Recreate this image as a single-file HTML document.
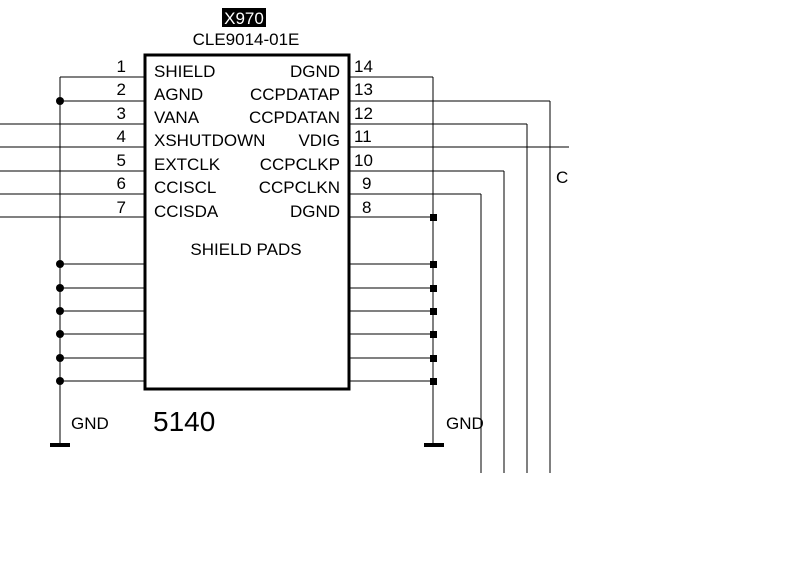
<!DOCTYPE html>
<html><head><style>
body{margin:0;background:#fff;width:796px;height:583px;overflow:hidden}
svg{display:block}
text{font-family:"Liberation Sans",Arial,sans-serif;font-size:17px;fill:#000}
</style></head><body>
<svg width="796" height="583" viewBox="0 0 796 583" xmlns="http://www.w3.org/2000/svg">
<g stroke="#000" stroke-width="1" fill="none" shape-rendering="crispEdges">
<line x1="60" y1="77" x2="144" y2="77"/>
<line x1="60" y1="101" x2="144" y2="101"/>
<line x1="0" y1="124" x2="144" y2="124"/>
<line x1="0" y1="147" x2="144" y2="147"/>
<line x1="0" y1="171" x2="144" y2="171"/>
<line x1="0" y1="194" x2="144" y2="194"/>
<line x1="0" y1="217" x2="144" y2="217"/>
<line x1="60" y1="77" x2="60" y2="445"/>
<line x1="60" y1="264" x2="144" y2="264"/>
<line x1="60" y1="288" x2="144" y2="288"/>
<line x1="60" y1="311" x2="144" y2="311"/>
<line x1="60" y1="334" x2="144" y2="334"/>
<line x1="60" y1="358" x2="144" y2="358"/>
<line x1="60" y1="381" x2="144" y2="381"/>
<line x1="349" y1="77" x2="433" y2="77"/>
<line x1="433" y1="77" x2="433" y2="445"/>
<line x1="349" y1="101" x2="550" y2="101"/>
<line x1="550" y1="101" x2="550" y2="473"/>
<line x1="349" y1="124" x2="527" y2="124"/>
<line x1="527" y1="124" x2="527" y2="473"/>
<line x1="349" y1="147" x2="569" y2="147"/>
<line x1="349" y1="171" x2="504" y2="171"/>
<line x1="504" y1="171" x2="504" y2="473"/>
<line x1="349" y1="194" x2="481" y2="194"/>
<line x1="481" y1="194" x2="481" y2="473"/>
<line x1="349" y1="217" x2="433" y2="217"/>
<line x1="349" y1="264" x2="433" y2="264"/>
<line x1="349" y1="288" x2="433" y2="288"/>
<line x1="349" y1="311" x2="433" y2="311"/>
<line x1="349" y1="334" x2="433" y2="334"/>
<line x1="349" y1="358" x2="433" y2="358"/>
<line x1="349" y1="381" x2="433" y2="381"/>
</g>
<rect x="145" y="55" width="204" height="334" fill="none" stroke="#000" stroke-width="3"/>
<rect x="50" y="443" width="20" height="4" fill="#000"/>
<rect x="424" y="443" width="20" height="4" fill="#000"/>
<g fill="#000">
<circle cx="60" cy="101" r="4"/>
<circle cx="60" cy="264" r="4"/><circle cx="60" cy="288" r="4"/><circle cx="60" cy="311" r="4"/>
<circle cx="60" cy="334" r="4"/><circle cx="60" cy="358" r="4"/><circle cx="60" cy="381" r="4"/>
<rect x="430" y="214" width="7" height="7"/>
<rect x="430" y="261" width="7" height="7"/><rect x="430" y="285" width="7" height="7"/>
<rect x="430" y="308" width="7" height="7"/><rect x="430" y="331" width="7" height="7"/>
<rect x="430" y="355" width="7" height="7"/><rect x="430" y="378" width="7" height="7"/>
</g>
<rect x="222" y="8" width="44" height="19" fill="#000"/>
<text x="244" y="24" text-anchor="middle" style="fill:#fff">X970</text>
<text x="246" y="45" text-anchor="middle">CLE9014-01E</text>
<g text-anchor="end">
<text x="126" y="72">1</text><text x="126" y="95">2</text><text x="126" y="119">3</text>
<text x="126" y="142">4</text><text x="126" y="166">5</text><text x="126" y="189">6</text><text x="126" y="213">7</text>
<text x="340" y="77">DGND</text><text x="340" y="100">CCPDATAP</text><text x="340" y="123">CCPDATAN</text>
<text x="340" y="146">VDIG</text><text x="340" y="170">CCPCLKP</text><text x="340" y="193">CCPCLKN</text><text x="340" y="217">DGND</text>
</g>
<text x="154" y="77">SHIELD</text><text x="154" y="100">AGND</text><text x="154" y="123">VANA</text>
<text x="154" y="146">XSHUTDOWN</text><text x="154" y="170">EXTCLK</text><text x="154" y="193">CCISCL</text><text x="154" y="217">CCISDA</text>
<text x="354" y="72">14</text><text x="354" y="95">13</text><text x="354" y="119">12</text><text x="354" y="142">11</text>
<text x="354" y="166">10</text><text x="362" y="189">9</text><text x="362" y="213">8</text>
<text x="246" y="255" text-anchor="middle">SHIELD PADS</text>
<text x="556" y="183">C</text>
<text x="71" y="429">GND</text>
<text x="446" y="429">GND</text>
<text x="153" y="431" style="font-size:28px">5140</text>
</svg>
</body></html>
